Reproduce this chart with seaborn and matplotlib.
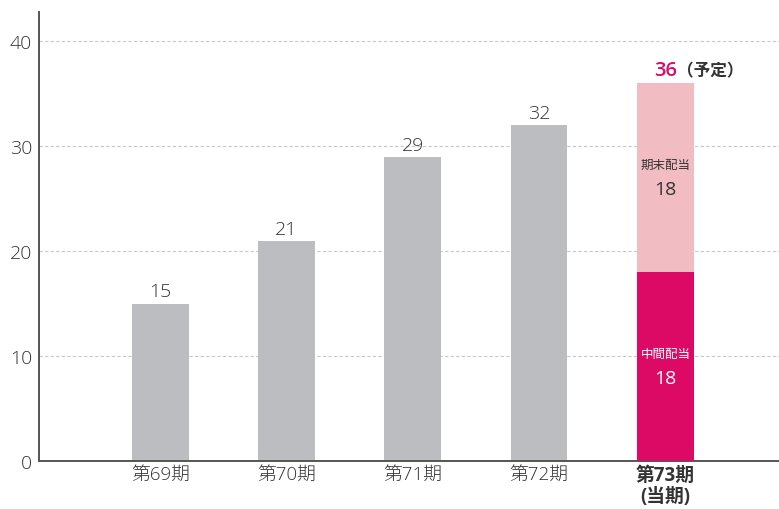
"""
Dividend per share by fiscal period (stacked interim / year-end for current period).
"""

import matplotlib
matplotlib.use("Agg")
import matplotlib.pyplot as plt
import pandas as pd
import seaborn as sns

# ==============================================================================
# DATA
# ==============================================================================
PERIODS = ["第69期", "第70期", "第71期", "第72期", "第73期\n(当期)"]
TOTALS = [15, 21, 29, 32, 36]
INTERIM = [0, 0, 0, 0, 18]
YEAR_END = [0, 0, 0, 0, 18]
Y_TICKS = [0, 10, 20, 30, 40]
# ==============================================================================

GRAY = "#bcbdc1"
PINK_LIGHT = "#f2bcc3"
MAGENTA = "#dc0a64"
TEXT = "#333333"

sns.set_style("white")
# Latin digits from Open Sans, Japanese glyphs fall back to Noto Sans CJK JP
plt.rcParams["font.family"] = ["Open Sans", "Noto Sans CJK JP", "DejaVu Sans"]

df = pd.DataFrame(
    {"period": PERIODS, "total": TOTALS, "interim": INTERIM, "year_end": YEAR_END}
)

fig = plt.figure(figsize=(7.79, 5.10), dpi=100)
ax = fig.add_axes([39 / 779, 48 / 510, 740 / 779, 449 / 510])

# total height bars (gray for past periods, light pink for the current period)
total_colors = [GRAY] * 4 + [PINK_LIGHT]
sns.barplot(
    data=df, x="period", y="total", hue="period", palette=total_colors,
    width=0.45, legend=False, ax=ax, zorder=2, saturation=1, linewidth=0,
)
# interim part of the current period
sns.barplot(
    data=df, x="period", y="interim", color=MAGENTA, width=0.45,
    ax=ax, zorder=3, saturation=1, linewidth=0,
)

ax.set_xlim(-0.96, 4.9)
ax.set_ylim(0, 42.8)
ax.set_yticks(Y_TICKS)
ax.set_xlabel("")
ax.set_ylabel("")

# dashed horizontal grid
for y in Y_TICKS[1:]:
    ax.axhline(y, color="#c8c8c8", linestyle=(0, (3, 2)), linewidth=0.8, zorder=1)

sns.despine(ax=ax)
for side in ["left", "bottom"]:
    ax.spines[side].set_color("#555555")
    ax.spines[side].set_linewidth(1.4)

ax.tick_params(axis="both", length=0, colors=TEXT)
ax.tick_params(axis="y", labelsize=14, pad=5)
ax.tick_params(axis="x", labelsize=13.5, pad=3)
for lbl in ax.get_yticklabels():
    lbl.set_fontweight("light")
for lbl in ax.get_xticklabels():
    lbl.set_linespacing(1.05)
    lbl.set_fontweight("light")
ax.get_xticklabels()[-1].set_fontweight("bold")

# value labels above past bars
for i, v in enumerate(TOTALS[:-1]):
    ax.text(i, v + 0.3, str(v), ha="center", va="bottom", fontsize=14,
            color=TEXT, fontweight="light")

# current period labels
last = len(PERIODS) - 1
ax.text(last + 0.095, TOTALS[-1] + 0.3, str(TOTALS[-1]), ha="right", va="bottom",
        fontsize=14.5, color=MAGENTA, fontweight="semibold")
ax.text(last + 0.095, TOTALS[-1] + 0.4, "（予定）", ha="left", va="bottom",
        fontsize=12, color=TEXT, fontweight="bold")

ax.text(last, INTERIM[-1] + YEAR_END[-1] / 2 + 1.3, "期末配当", ha="center",
        va="center", fontsize=9, color=TEXT)
ax.text(last, INTERIM[-1] + YEAR_END[-1] / 2 - 1.1, str(YEAR_END[-1]),
        ha="center", va="center", fontsize=14, color=TEXT)
ax.text(last, INTERIM[-1] / 2 + 1.3, "中間配当", ha="center", va="center",
        fontsize=9, color="white")
ax.text(last, INTERIM[-1] / 2 - 1.1, str(INTERIM[-1]), ha="center", va="center",
        fontsize=14, color="white")

fig.savefig("out.png", dpi=100)
